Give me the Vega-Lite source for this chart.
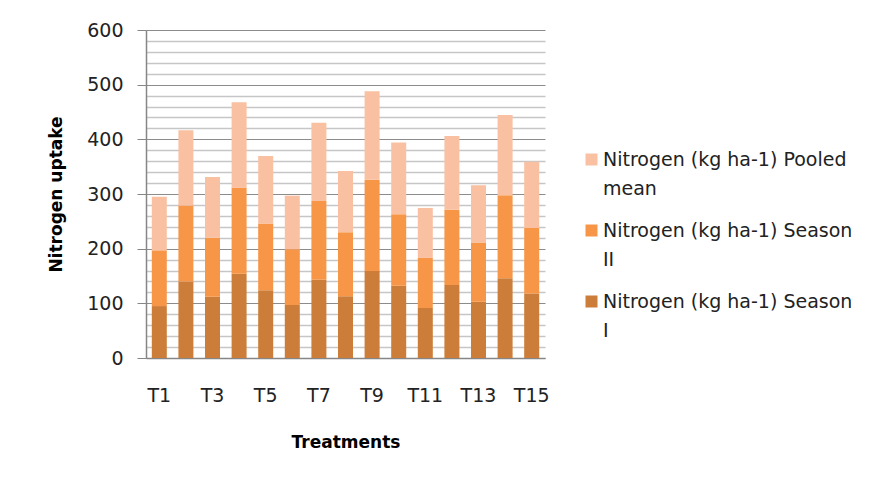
{
  "$schema": "https://vega.github.io/schema/vega-lite/v6.json",
  "autosize": "none",
  "width": 399,
  "height": 328,
  "padding": {"left": 146, "top": 30, "right": 326, "bottom": 124},
  "background": "#ffffff",
  "config": {
    "font": "DejaVu Sans",
    "view": {"stroke": null}
  },
  "data": {
    "values": [
      {"t": "T1", "series": "Nitrogen (kg ha-1) Season I", "k": 1, "v": 95},
      {"t": "T1", "series": "Nitrogen (kg ha-1) Season II", "k": 2, "v": 102},
      {"t": "T1", "series": "Nitrogen (kg ha-1) Pooled mean", "k": 3, "v": 98},
      {"t": "T2", "series": "Nitrogen (kg ha-1) Season I", "k": 1, "v": 140},
      {"t": "T2", "series": "Nitrogen (kg ha-1) Season II", "k": 2, "v": 139},
      {"t": "T2", "series": "Nitrogen (kg ha-1) Pooled mean", "k": 3, "v": 137.5},
      {"t": "T3", "series": "Nitrogen (kg ha-1) Season I", "k": 1, "v": 112},
      {"t": "T3", "series": "Nitrogen (kg ha-1) Season II", "k": 2, "v": 108},
      {"t": "T3", "series": "Nitrogen (kg ha-1) Pooled mean", "k": 3, "v": 111},
      {"t": "T4", "series": "Nitrogen (kg ha-1) Season I", "k": 1, "v": 154},
      {"t": "T4", "series": "Nitrogen (kg ha-1) Season II", "k": 2, "v": 158},
      {"t": "T4", "series": "Nitrogen (kg ha-1) Pooled mean", "k": 3, "v": 156},
      {"t": "T5", "series": "Nitrogen (kg ha-1) Season I", "k": 1, "v": 124},
      {"t": "T5", "series": "Nitrogen (kg ha-1) Season II", "k": 2, "v": 122},
      {"t": "T5", "series": "Nitrogen (kg ha-1) Pooled mean", "k": 3, "v": 123.5},
      {"t": "T6", "series": "Nitrogen (kg ha-1) Season I", "k": 1, "v": 97},
      {"t": "T6", "series": "Nitrogen (kg ha-1) Season II", "k": 2, "v": 102},
      {"t": "T6", "series": "Nitrogen (kg ha-1) Pooled mean", "k": 3, "v": 98},
      {"t": "T7", "series": "Nitrogen (kg ha-1) Season I", "k": 1, "v": 143},
      {"t": "T7", "series": "Nitrogen (kg ha-1) Season II", "k": 2, "v": 144},
      {"t": "T7", "series": "Nitrogen (kg ha-1) Pooled mean", "k": 3, "v": 143.5},
      {"t": "T8", "series": "Nitrogen (kg ha-1) Season I", "k": 1, "v": 113},
      {"t": "T8", "series": "Nitrogen (kg ha-1) Season II", "k": 2, "v": 117},
      {"t": "T8", "series": "Nitrogen (kg ha-1) Pooled mean", "k": 3, "v": 112},
      {"t": "T9", "series": "Nitrogen (kg ha-1) Season I", "k": 1, "v": 159},
      {"t": "T9", "series": "Nitrogen (kg ha-1) Season II", "k": 2, "v": 167},
      {"t": "T9", "series": "Nitrogen (kg ha-1) Pooled mean", "k": 3, "v": 162},
      {"t": "T10", "series": "Nitrogen (kg ha-1) Season I", "k": 1, "v": 132},
      {"t": "T10", "series": "Nitrogen (kg ha-1) Season II", "k": 2, "v": 131},
      {"t": "T10", "series": "Nitrogen (kg ha-1) Pooled mean", "k": 3, "v": 131},
      {"t": "T11", "series": "Nitrogen (kg ha-1) Season I", "k": 1, "v": 91.5},
      {"t": "T11", "series": "Nitrogen (kg ha-1) Season II", "k": 2, "v": 91.5},
      {"t": "T11", "series": "Nitrogen (kg ha-1) Pooled mean", "k": 3, "v": 91.5},
      {"t": "T12", "series": "Nitrogen (kg ha-1) Season I", "k": 1, "v": 133.5},
      {"t": "T12", "series": "Nitrogen (kg ha-1) Season II", "k": 2, "v": 137.5},
      {"t": "T12", "series": "Nitrogen (kg ha-1) Pooled mean", "k": 3, "v": 135},
      {"t": "T13", "series": "Nitrogen (kg ha-1) Season I", "k": 1, "v": 103},
      {"t": "T13", "series": "Nitrogen (kg ha-1) Season II", "k": 2, "v": 108.5},
      {"t": "T13", "series": "Nitrogen (kg ha-1) Pooled mean", "k": 3, "v": 104.5},
      {"t": "T14", "series": "Nitrogen (kg ha-1) Season I", "k": 1, "v": 146},
      {"t": "T14", "series": "Nitrogen (kg ha-1) Season II", "k": 2, "v": 151.5},
      {"t": "T14", "series": "Nitrogen (kg ha-1) Pooled mean", "k": 3, "v": 147},
      {"t": "T15", "series": "Nitrogen (kg ha-1) Season I", "k": 1, "v": 118},
      {"t": "T15", "series": "Nitrogen (kg ha-1) Season II", "k": 2, "v": 120},
      {"t": "T15", "series": "Nitrogen (kg ha-1) Pooled mean", "k": 3, "v": 121}
    ]
  },
  "mark": {"type": "bar"},
  "encoding": {
    "x": {
      "field": "t",
      "type": "nominal",
      "sort": null,
      "scale": {"paddingInner": 0.436, "paddingOuter": 0.218},
      "axis": {
        "title": "Treatments",
        "titleFontSize": 17,
        "titleFontWeight": "bold",
        "titleColor": "#000000",
        "titlePadding": 29,
        "values": ["T1", "T3", "T5", "T7", "T9", "T11", "T13", "T15"],
        "labelAngle": 0,
        "labelFontSize": 19,
        "labelColor": "#222222",
        "labelPadding": 28,
        "ticks": false,
        "domainColor": "#868686",
        "domainWidth": 1.5,
        "grid": false
      }
    },
    "y": {
      "field": "v",
      "type": "quantitative",
      "stack": "zero",
      "scale": {"domain": [0, 600], "nice": false},
      "axis": {
        "title": "Nitrogen uptake",
        "titleFontSize": 17,
        "titleFontWeight": "bold",
        "titleColor": "#000000",
        "titlePadding": 21,
        "values": [0, 20, 40, 60, 80, 100, 120, 140, 160, 180, 200, 220, 240, 260, 280, 300, 320, 340, 360, 380, 400, 420, 440, 460, 480, 500, 520, 540, 560, 580, 600],
        "labelExpr": "datum.value % 100 === 0 ? datum.label : ''",
        "labelFontSize": 19,
        "labelColor": "#222222",
        "labelPadding": 14,
        "tickSize": 9,
        "tickColor": "#868686",
        "tickOpacity": {"condition": {"test": "datum.value % 100 === 0", "value": 1}, "value": 0},
        "domainColor": "#868686",
        "domainWidth": 1.5,
        "grid": true,
        "gridColor": {"condition": {"test": "datum.value % 100 === 0", "value": "#8c8c8c"}, "value": "#c6c6c6"},
        "gridWidth": {"condition": {"test": "datum.value % 100 === 0", "value": 1.2}, "value": 1.5}
      }
    },
    "order": {"field": "k", "type": "quantitative", "sort": "ascending"},
    "color": {
      "field": "series",
      "type": "nominal",
      "sort": ["Nitrogen (kg ha-1) Pooled mean", "Nitrogen (kg ha-1) Season II", "Nitrogen (kg ha-1) Season I"],
      "scale": {
        "domain": ["Nitrogen (kg ha-1) Pooled mean", "Nitrogen (kg ha-1) Season II", "Nitrogen (kg ha-1) Season I"],
        "range": ["#f9c1a2", "#f79646", "#cd7d3a"]
      },
      "legend": {
        "title": null,
        "orient": "none",
        "legendX": 436,
        "legendY": 120,
        "padding": 0,
        "symbolType": "square",
        "symbolSize": 144,
        "symbolStrokeWidth": 0,
        "labelFontSize": 19,
        "labelColor": "#222222",
        "labelLimit": 400,
        "labelOffset": 2,
        "labelBaseline": "middle",
        "rowPadding": 22,
        "labelExpr": "datum.label == 'Nitrogen (kg ha-1) Pooled mean' ? ['Nitrogen (kg ha-1) Pooled', 'mean'] : datum.label == 'Nitrogen (kg ha-1) Season II' ? ['Nitrogen (kg ha-1) Season', 'II'] : ['Nitrogen (kg ha-1) Season', 'I']",
        "encode": {"labels": {"update": {"lineHeight": {"value": 29}}}}
      }
    }
  }
}
